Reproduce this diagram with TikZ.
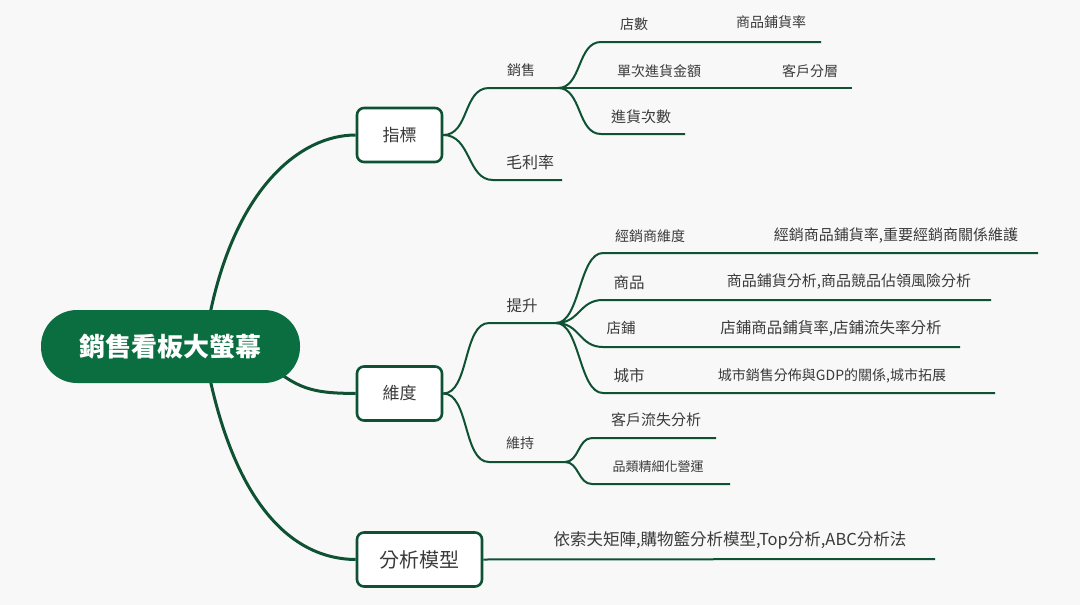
\documentclass[tikz,border=0pt]{standalone}
\usepackage{fontspec}
\newfontfamily\cjk{Noto Sans CJK TC}
\usetikzlibrary{backgrounds}
\definecolor{rootgreen}{HTML}{0B6E40}
\definecolor{linegreen}{HTML}{0E5233}
\definecolor{txtgray}{HTML}{3A3A3A}
\definecolor{bgcol}{HTML}{F7F8F7}
\begin{document}
\begin{tikzpicture}[x=1pt,y=-1pt,font=\cjk,
    rootnode/.style={fill=rootgreen,text=white,rounded corners=36pt,minimum width=259pt,minimum height=73pt,font=\cjk\bfseries\fontsize{26}{30}\selectfont},
    topic/.style={draw=linegreen,line width=2.6pt,fill=white,rounded corners=7pt,minimum height=54pt,text=txtgray,font=\cjk\fontsize{#1}{#1}\selectfont},
    topic/.default=17,
    leaf/.style={text=txtgray,inner sep=0pt,font=\cjk\fontsize{#1}{#1}\selectfont},
    leaf/.default=14,
    mainline/.style={draw=linegreen,line width=3pt},
    branch/.style={draw=linegreen,line width=2pt}]
  \useasboundingbox (0,0) rectangle (1080,605);
  \node (root) at (170.5,346.5) [rootnode] {銷售看板大螢幕};
  \node (zb) at (399.5,135) [topic,minimum width=85pt] {指標};
  \node (wd) at (399.5,393.5) [topic,minimum width=85pt] {維度};
  \node (fx) at (419.5,559.5) [topic=20,minimum width=125pt] {分析模型};
  \node (xs) at (521,70) [leaf] {銷售};
  \node (ds) at (634,24) [leaf] {店數};
  \node (sp) at (771,22) [leaf] {商品鋪貨率};
  \node (dc) at (659,71) [leaf] {單次進貨金額};
  \node (kh) at (810,71) [leaf] {客戶分層};
  \node (jh) at (641,117) [leaf=15] {進貨次數};
  \node (ml) at (530,162) [leaf=16] {毛利率};
  \node (ts) at (522,306) [leaf=15.5] {提升};
  \node (jx) at (650,236) [leaf] {經銷商維度};
  \node (jxd) at (896,236) [leaf=15] {經銷商品鋪貨率,重要經銷商關係維護};
  \node (sh) at (629,283) [leaf=15.5] {商品};
  \node (shd) at (849,282) [leaf=15] {商品鋪貨分析,商品競品佔領風險分析};
  \node (dp) at (621,328) [leaf=14.5] {店鋪};
  \node (dpd) at (831,328) [leaf=15.5] {店鋪商品鋪貨率,店鋪流失率分析};
  \node (cs) at (629,376) [leaf=15.5] {城市};
  \node (csd) at (832,376) [leaf=14] {城市銷售分佈與GDP的關係,城市拓展};
  \node (wc) at (520,443) [leaf] {維持};
  \node (kl) at (656,420) [leaf=15] {客戶流失分析};
  \node (pl) at (658,467) [leaf=13] {品類精細化營運};
  \node (fxd) at (730,540) [leaf=16.5] {依索夫矩陣,購物籃分析模型,Top分析,ABC分析法};
  \coordinate (rt) at (210,314);
  \coordinate (rb) at (210,379);
  \coordinate (rr) at (270,365);
  \coordinate (xs1) at (489,88);
  \coordinate (xs2) at (558,88);
  \coordinate (ds1) at (601,42);
  \coordinate (ds2) at (821,42);
  \coordinate (dc2) at (852,88);
  \coordinate (jh1) at (601,134);
  \coordinate (jh2) at (685,134);
  \coordinate (ml1) at (493,180);
  \coordinate (ml2) at (562,180);
  \coordinate (ts1) at (489,323);
  \coordinate (ts2) at (556,323);
  \coordinate (jx1) at (603,253);
  \coordinate (jx2) at (1038,253);
  \coordinate (sh1) at (603,300);
  \coordinate (sh2) at (991,300);
  \coordinate (dp1) at (603,347);
  \coordinate (dp2) at (960,347);
  \coordinate (cs1) at (603,393);
  \coordinate (cs2) at (995,393);
  \coordinate (wc1) at (489,462);
  \coordinate (wc2) at (565,462);
  \coordinate (kl1) at (592,438);
  \coordinate (kl2) at (716,438);
  \coordinate (pl1) at (592,484);
  \coordinate (pl2) at (730,484);
  \coordinate (fx2) at (935,559);
  \begin{scope}[on background layer]
    \fill[bgcol] (0,0) rectangle (1080,605);
    \draw[mainline] (rt) .. controls (236,188) and (300,135) .. (zb.west);
    \draw[mainline] (rr) .. controls (300,392) and (320,393) .. (wd.west);
    \draw[mainline] (rb) .. controls (236,498) and (288,559) .. (fx.west);
    \draw[branch] (zb.east) .. controls +(26,0) and +(-26,0) .. (xs1) -- (xs2);
    \draw[branch] (zb.east) .. controls +(28,0) and +(-26,0) .. (ml1) -- (ml2);
    \draw[branch] (xs2) .. controls +(24,0) and +(-24,0) .. (ds1) -- (ds2);
    \draw[branch] (xs2) -- (dc2);
    \draw[branch] (xs2) .. controls +(24,0) and +(-24,0) .. (jh1) -- (jh2);
    \draw[branch] (wd.east) .. controls +(26,0) and +(-26,0) .. (ts1) -- (ts2);
    \draw[branch] (wd.east) .. controls +(26,0) and +(-26,0) .. (wc1) -- (wc2);
    \draw[branch] (ts2) .. controls +(24,0) and +(-24,0) .. (jx1) -- (jx2);
    \draw[branch] (ts2) .. controls +(24,0) and +(-24,0) .. (sh1) -- (sh2);
    \draw[branch] (ts2) .. controls +(24,0) and +(-24,0) .. (dp1) -- (dp2);
    \draw[branch] (ts2) .. controls +(24,0) and +(-24,0) .. (cs1) -- (cs2);
    \draw[branch] (wc2) .. controls +(14,0) and +(-14,0) .. (kl1) -- (kl2);
    \draw[branch] (wc2) .. controls +(14,0) and +(-14,0) .. (pl1) -- (pl2);
    \draw[branch] (fx.east) -- (fx2);
  \end{scope}
\end{tikzpicture}
\end{document}
